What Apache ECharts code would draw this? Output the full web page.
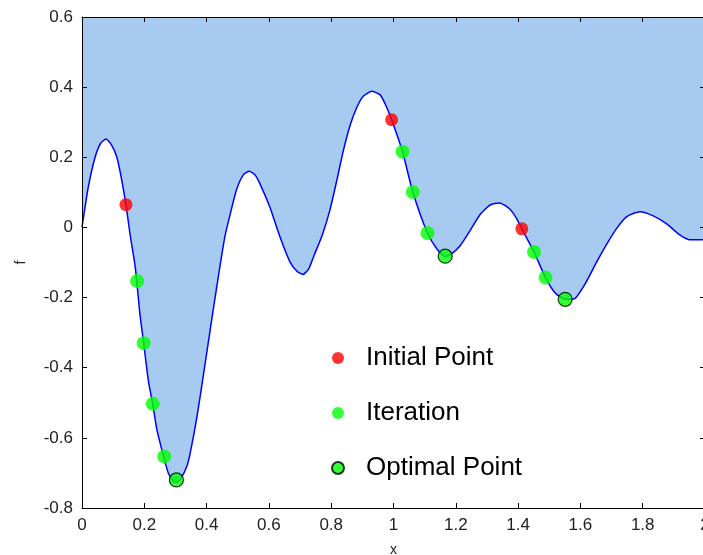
<!DOCTYPE html>
<html lang="en">
<head>
    <meta charset="UTF-8">
    <title>Optimization path</title>
    <style>
        html, body { margin: 0; padding: 0; background: #fff; }
        #chart { width: 703px; height: 555px; }
    </style>
</head>
<body>
<div id="chart"></div>
<script src="https://cdn.jsdelivr.net/npm/echarts@6/dist/echarts.min.js"></script>
<script>
    // curve f(x)
    var curveX = [0, 0.02, 0.042, 0.06, 0.077, 0.095, 0.112, 0.128, 0.141, 0.154, 0.171, 0.186, 0.198, 0.213,
        0.227, 0.24, 0.264, 0.277, 0.292, 0.304, 0.318, 0.337, 0.347, 0.369, 0.395, 0.422, 0.443, 0.459,
        0.475, 0.497, 0.518, 0.537, 0.555, 0.571, 0.603, 0.636, 0.668, 0.69, 0.709, 0.728, 0.745, 0.772,
        0.796, 0.818, 0.839, 0.861, 0.882, 0.903, 0.93, 0.957, 0.976, 0.994, 1.029, 1.062, 1.109, 1.14,
        1.166, 1.185, 1.214, 1.246, 1.278, 1.31, 1.34, 1.374, 1.394, 1.412, 1.451, 1.488, 1.52, 1.551,
        1.583, 1.615, 1.652, 1.685, 1.717, 1.749, 1.791, 1.834, 1.877, 1.92, 1.952, 1.99, 2.0];
    var curveF = [0, 0.114, 0.2, 0.24, 0.252, 0.235, 0.2, 0.133, 0.065, -0.018, -0.114, -0.247, -0.33, -0.437,
        -0.503, -0.575, -0.66, -0.7, -0.722, -0.727, -0.715, -0.68, -0.645, -0.54, -0.39, -0.23, -0.11, -0.025,
        0.035, 0.11, 0.15, 0.16, 0.15, 0.125, 0.058, -0.028, -0.099, -0.125, -0.134, -0.118, -0.08, -0.02,
        0.05, 0.134, 0.219, 0.292, 0.342, 0.374, 0.388, 0.378, 0.347, 0.307, 0.216, 0.101, -0.016, -0.062,
        -0.083, -0.076, -0.052, -0.009, 0.037, 0.064, 0.07, 0.052, 0.027, -0.004, -0.07, -0.143, -0.188, -0.205,
        -0.202, -0.161, -0.099, -0.047, -0.002, 0.031, 0.045, 0.033, 0.01, -0.022, -0.035, -0.035, -0.033];

    var initialX = [0.141, 0.994, 1.412];
    var initialF = [0.065, 0.307, -0.004];

    var iterX = [0.177, 0.198, 0.227, 0.264, 1.029, 1.062, 1.109, 1.451, 1.488];
    var iterF = [-0.153, -0.33, -0.503, -0.653, 0.216, 0.101, -0.016, -0.07, -0.143];

    var optX = [0.303, 1.166, 1.551];
    var optF = [-0.72, -0.082, -0.205];

    function pairs(xs, ys) {
        var out = [];
        for (var i = 0; i < xs.length; i++) out.push([xs[i], ys[i]]);
        return out;
    }

    var font = '"Liberation Sans", Arial, sans-serif';
    var myChart = echarts.init(document.getElementById('chart'));

    var option = {
        animation: false,
        grid: { left: 82, right: -2, top: 17, bottom: 47, outerBoundsMode: 'none', containLabel: false },
        legend: {
            orient: 'vertical',
            left: 326,
            top: 339,
            itemWidth: 46,
            itemHeight: 12,
            itemGap: 27,
            textStyle: { fontFamily: font, fontSize: 26, color: '#000', lineHeight: 28 },
            data: [
                { name: 'Initial Point', icon: 'circle' },
                { name: 'Iteration', icon: 'circle' },
                { name: 'Optimal Point', icon: 'circle' }
            ]
        },
        xAxis: [{
            type: 'value', min: 0, max: 2, interval: 0.2, z: 5,
            name: 'x', nameLocation: 'middle', nameGap: 35,
            nameTextStyle: { fontFamily: font, fontSize: 14, color: '#222' },
            axisLine: { onZero: false, lineStyle: { color: '#000', width: 1 } },
            axisTick: { inside: true, length: 5, lineStyle: { color: '#000' } },
            axisLabel: { fontFamily: font, fontSize: 17, color: '#222', margin: 9 },
            splitLine: { show: false }
        }, {
            type: 'value', min: 0, max: 2, interval: 0.2, position: 'top', z: 5,
            axisLine: { onZero: false, lineStyle: { color: '#000', width: 1 } },
            axisTick: { inside: true, length: 5, lineStyle: { color: '#000' } },
            axisLabel: { show: false },
            splitLine: { show: false }
        }],
        yAxis: [{
            type: 'value', min: -0.8, max: 0.6, interval: 0.2, z: 5,
            name: 'f', nameLocation: 'middle', nameGap: 54, nameRotate: 90,
            nameTextStyle: { fontFamily: font, fontSize: 14, color: '#222' },
            axisLine: { show: true, onZero: false, lineStyle: { color: '#000', width: 1 } },
            axisTick: { show: true, inside: true, length: 5, lineStyle: { color: '#000' } },
            axisLabel: { fontFamily: font, fontSize: 17, color: '#222', margin: 9 },
            splitLine: { show: false }
        }, {
            type: 'value', min: -0.8, max: 0.6, interval: 0.2, position: 'right', z: 5,
            axisLine: { show: true, onZero: false, lineStyle: { color: '#000', width: 1 } },
            axisTick: { show: true, inside: true, length: 5, lineStyle: { color: '#000' } },
            axisLabel: { show: false },
            splitLine: { show: false }
        }],
        series: [{
            name: 'f',
            type: 'line',
            data: pairs(curveX, curveF),
            smooth: 0.2,
            showSymbol: false,
            lineStyle: { color: '#0000ff', width: 1.5 },
            areaStyle: { origin: 'end', color: '#a6caf0', opacity: 1 },
            z: 1
        }, {
            name: 'Initial Point',
            type: 'scatter',
            data: pairs(initialX, initialF),
            symbol: 'circle',
            symbolSize: 13,
            itemStyle: { color: '#ff0000' },
            z: 3
        }, {
            name: 'Iteration',
            type: 'scatter',
            data: pairs(iterX, iterF),
            symbol: 'circle',
            symbolSize: 14,
            itemStyle: { color: '#00ff00' },
            z: 3
        }, {
            name: 'Optimal Point',
            type: 'scatter',
            data: pairs(optX, optF),
            symbol: 'circle',
            symbolSize: 14,
            itemStyle: { color: '#00ff00', borderColor: '#000', borderWidth: 1.2 },
            z: 4
        }]
    };
    myChart.setOption(option);
</script>
</body>
</html>
